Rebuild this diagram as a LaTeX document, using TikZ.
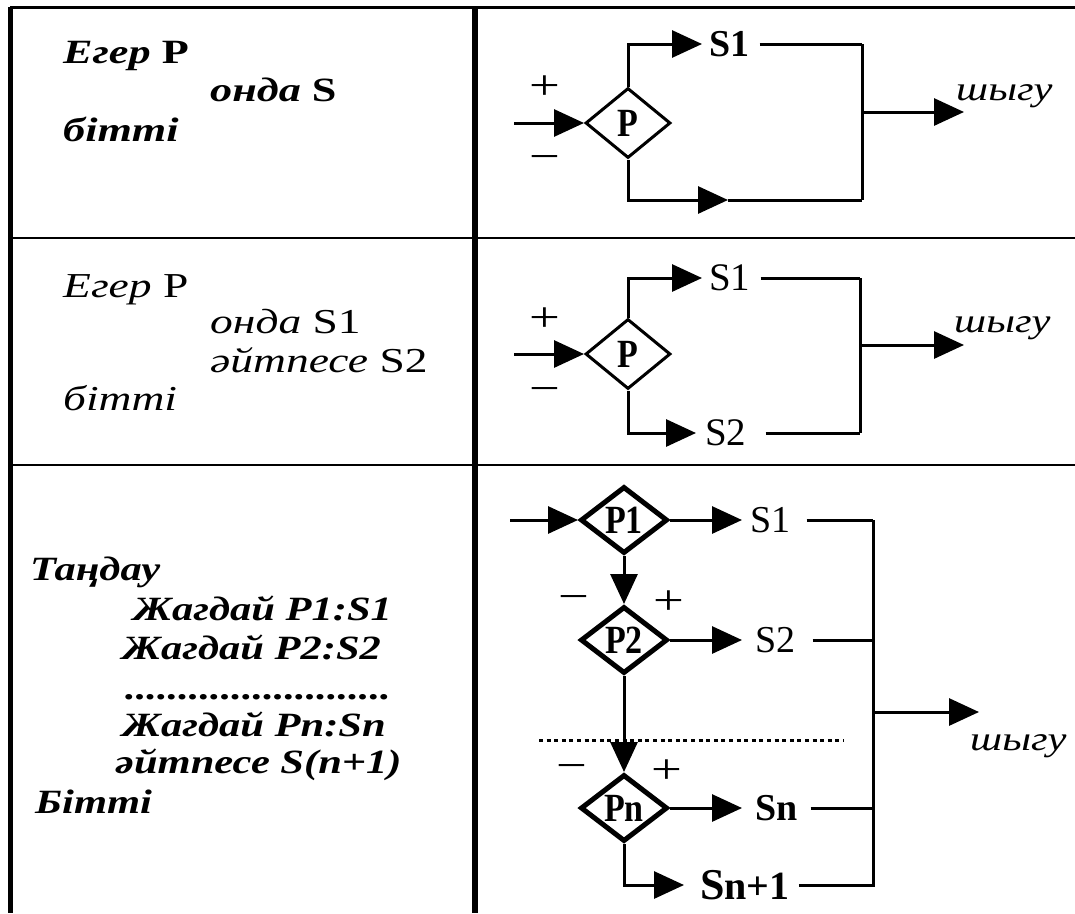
\documentclass[tikz,border=0pt]{standalone}
\usepackage{fontspec}
\setmainfont{Liberation Serif}
\newfontfamily\widefont[FakeStretch=1.3]{Liberation Serif}
\newfontfamily\rowfont[FakeStretch=1.25]{Liberation Serif}
\newfontfamily\pmfont[FakeStretch=1.3]{Liberation Serif}
\newfontfamily\condfont[FakeStretch=0.85]{Liberation Serif}
\usetikzlibrary{shapes.geometric,arrows.meta}
\begin{document}
\begin{tikzpicture}[x=1pt,y=-1pt,
  conn/.style={line width=3pt},
  arr/.style={conn,-{Triangle[length=30pt,width=27pt]}},
  dia/.style={diamond,draw,line width=3pt,inner sep=0pt,minimum width=85pt,minimum height=70pt,font=\fontsize{40}{40}\condfont\bfseries},
  diab/.style={diamond,draw,line width=5pt,inner sep=0pt,minimum width=87pt,minimum height=67pt,font=\fontsize{40}{40}\condfont\bfseries},
  lab/.style={inner sep=0pt,anchor=west},
  txt/.style={inner sep=0pt,anchor=base west},
  pmk/.style={inner sep=0pt,font=\fontsize{42}{42}\pmfont},
  outl/.style={txt,font=\fontsize{34}{34}\rowfont\itshape},
  dotline/.style={line width=3pt,dash pattern=on 4pt off 3.6pt},
]
\useasboundingbox (0,0) rectangle (1075,913);
% frame
\coordinate (fTL) at (10,7);
\coordinate (fTR) at (1075,7);
\coordinate (fBL) at (10,913);
\coordinate (dT) at (475,7);
\coordinate (dB) at (475,913);
\coordinate (h1L) at (10,238);
\coordinate (h1R) at (1075,238);
\coordinate (h2L) at (10,465);
\coordinate (h2R) at (1075,465);
\draw[line width=3pt] (fTL) -- (fTR);
\draw[line width=5pt] (fTL) -- (fBL);
\draw[line width=6pt] (dT) -- (dB);
\draw[line width=2.5pt] (h1L) -- (h1R);
\draw[line width=2.5pt] (h2L) -- (h2R);

% ---------- left texts ----------
\node[txt,font=\fontsize{34}{34}\widefont\bfseries] (r1a) at (63,63) {{\itshape Егер} P};
\node[txt,font=\fontsize{34}{34}\widefont\bfseries] (r1b) at (210,101) {{\itshape онда} S};
\node[txt,font=\fontsize{34}{34}\widefont\bfseries] (r1c) at (63,141) {\itshape бітті};

\node[txt,font=\fontsize{35}{35}\widefont] (r2a) at (63,297) {{\itshape Егер} P};
\node[txt,font=\fontsize{35}{35}\widefont] (r2b) at (210,333) {{\itshape онда} S1};
\node[txt,font=\fontsize{35}{35}\widefont] (r2c) at (210,372) {{\itshape әйтпесе} S2};
\node[txt,font=\fontsize{35}{35}\widefont] (r2d) at (63,410) {\itshape бітті};

\node[txt,font=\fontsize{34}{34}\rowfont\bfseries\itshape] (r3a) at (30,580) {Таңдау};
\node[txt,font=\fontsize{34}{34}\rowfont\bfseries\itshape] (r3b) at (133,620) {Жагдай P1:S1};
\node[txt,font=\fontsize{34}{34}\rowfont\bfseries\itshape] (r3c) at (122,659) {Жагдай P2:S2};
\node[txt,font=\fontsize{34}{34}\rowfont\bfseries\itshape] (r3d) at (125,699) {.........................};
\node[txt,font=\fontsize{34}{34}\rowfont\bfseries\itshape] (r3e) at (122,736) {Жагдай Pn:Sn};
\node[txt,font=\fontsize{34}{34}\rowfont\bfseries\itshape] (r3f) at (115,773) {әйтпесе S(n+1)};
\node[txt,font=\fontsize{34}{34}\rowfont\bfseries\itshape] (r3g) at (35,813) {Бітті};

% ---------- row 1 diagram ----------
\coordinate (in1) at (514,123);
\node[dia] (d1) at (628,123) {P};
\node[pmk] (pl1) at (545,88) {+};
\node[pmk] (mi1) at (545,163) {−};
\node[lab,font=\fontsize{38}{38}\selectfont\bfseries] (s11) at (709,44) {S1};
\coordinate (j1a) at (862,44);
\coordinate (j1b) at (862,200);
\coordinate (m1) at (728,200);
\coordinate (o1a) at (862,112);
\coordinate (o1b) at (964,112);
\draw[arr] (in1) -- (d1.west);
\draw[arr,shorten >=7pt] (d1.north) |- (s11.west);
\draw[conn,shorten <=10pt] (s11.east) -- (j1a);
\draw[conn] (j1a) -- (j1b);
\draw[arr] (d1.south) |- (m1);
\draw[conn] (m1) -- (j1b);
\draw[arr] (o1a) -- (o1b);
\node[outl] (out1) at (956,100) {шыгу};

% ---------- row 2 diagram ----------
\coordinate (in2) at (514,354);
\node[dia] (d2) at (628,354) {P};
\node[pmk] (pl2) at (545,320) {+};
\node[pmk] (mi2) at (545,395) {−};
\node[lab,font=\fontsize{39}{39}\selectfont] (s21) at (709,278) {S1};
\node[lab,font=\fontsize{39}{39}\selectfont] (s22) at (705,433) {S2};
\coordinate (j2a) at (860,278);
\coordinate (j2b) at (860,433);
\coordinate (o2a) at (860,345);
\coordinate (o2b) at (964,345);
\draw[arr] (in2) -- (d2.west);
\draw[arr,shorten >=7pt] (d2.north) |- (s21.west);
\draw[conn,shorten <=10pt] (s21.east) -- (j2a);
\draw[conn] (j2a) -- (j2b);
\draw[arr,shorten >=9pt] (d2.south) |- (s22.west);
\draw[conn,shorten <=19pt] (s22.east) -- (j2b);
\draw[arr] (o2a) -- (o2b);
\node[outl] (out2) at (954,332) {шыгу};

% ---------- row 3 diagram ----------
\coordinate (in3) at (510,520);
\node[diab] (p1) at (624,520) {P1};
\node[diab] (p2) at (624,640) {P2};
\node[diab] (pn) at (624,808) {Pn};
\node[pmk] (mi31) at (574,603) {−};
\node[pmk] (pl31) at (669,603) {+};
\node[pmk] (mi32) at (572,772) {−};
\node[pmk] (pl32) at (667,772) {+};
\node[lab,font=\fontsize{38}{38}\selectfont] (s31) at (750,520) {S1};
\node[lab,font=\fontsize{38}{38}\selectfont] (s32) at (755,640) {S2};
\node[lab,font=\fontsize{38}{38}\selectfont\bfseries] (s3n) at (755,808) {Sn};
\node[lab,font=\fontsize{44}{44}\selectfont\bfseries] (s3m) at (700,885) {S\fontsize{40}{40}\selectfont n+1};
\coordinate (b1) at (873,520);
\coordinate (b2) at (873,640);
\coordinate (b3) at (873,808);
\coordinate (b4) at (873,887);
\coordinate (b5) at (873,885);
\coordinate (o3a) at (873,712);
\coordinate (o3b) at (979,712);
\coordinate (dl1) at (539,740);
\coordinate (dl2) at (844,740);
\draw[arr] (in3) -- (p1.west);
\draw[arr,shorten >=8pt] (p1.east) -- (s31.west);
\draw[arr,shorten >=13pt] (p2.east) -- (s32.west);
\draw[arr,shorten >=13pt] (pn.east) -- (s3n.west);
\draw[arr] (p1.south) -- (p2.north);
\draw[arr] (p2.south) -- (pn.north);
\draw[arr,shorten >=16pt] (pn.south) |- (s3m.west);
\draw[conn,shorten <=16pt] (s31.east) -- (b1);
\draw[conn,shorten <=17pt] (s32.east) -- (b2);
\draw[conn,shorten <=13pt] (s3n.east) -- (b3);
\draw[conn,shorten <=9pt] (s3m.east) -- (b5);
\draw[conn] (b1) -- (b4);
\draw[arr] (o3a) -- (o3b);
\draw[dotline] (dl1) -- (dl2);
\node[outl] (out3) at (970,750) {шыгу};
\end{tikzpicture}
\end{document}
